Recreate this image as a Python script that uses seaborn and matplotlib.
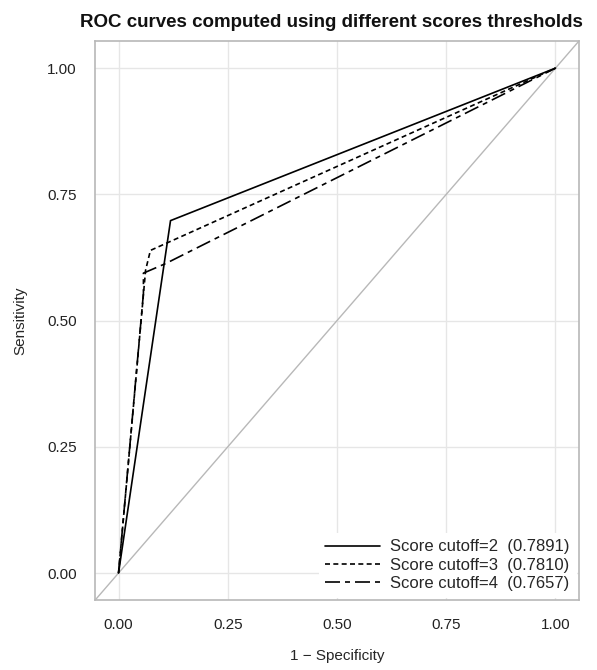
import numpy as np
import pandas as pd
import seaborn as sns
import matplotlib
matplotlib.use('Agg')
import matplotlib.pyplot as plt

# ROC points (1 - specificity, sensitivity)
fpr_c2 = [0.0, 0.119, 1.0]
tpr_c2 = [0.0, 0.698, 1.0]

fpr_c3 = [0.0, 0.062, 0.073, 1.0]
tpr_c3 = [0.0, 0.600, 0.639, 1.0]

fpr_c4 = [0.0, 0.057, 0.057, 0.108, 1.0]
tpr_c4 = [0.0, 0.554, 0.594, 0.613, 1.0]

labels = ['Score cutoff=2  (0.7891)', 'Score cutoff=3  (0.7810)', 'Score cutoff=4  (0.7657)']
ticks = [0.0, 0.25, 0.5, 0.75, 1.0]

sns.set_style('white')
plt.rcParams['font.family'] = ['Liberation Sans', 'DejaVu Sans']

fig = plt.figure(figsize=(5.97, 6.70), dpi=100)
ax = fig.add_axes([0.159, 0.104, 0.811, 0.835])

grey = '#b8b8b8'
ax.axline((0, 0), (1, 1), color=grey, lw=1, zorder=1)

curves = [(fpr_c2, tpr_c2, '-'), (fpr_c3, tpr_c3, (0, (3, 2))), (fpr_c4, tpr_c4, (0, (9, 3, 3, 3)))]
for (fx, ty, ls), lab in zip(curves, labels):
    d = pd.DataFrame({'fpr': fx, 'tpr': ty})
    sns.lineplot(data=d, x='fpr', y='tpr', ax=ax, color='black', lw=1.2,
                 linestyle=ls, estimator=None, sort=False, label=lab, zorder=3)

ax.set_xlim(-0.054, 1.054)
ax.set_ylim(-0.054, 1.054)
ax.set_xticks(ticks)
ax.set_yticks(ticks)
ax.set_xticklabels([f'{t:.2f}' for t in ticks])
ax.set_yticklabels([f'{t:.2f}' for t in ticks])
ax.grid(True, color='#e6e6e6', lw=1, zorder=0)
ax.set_axisbelow(True)
for s in ax.spines.values():
    s.set_color(grey)
    s.set_linewidth(1.2)
    s.set_zorder(10)
ax.tick_params(axis='both', length=6, width=1, color=grey, labelsize=11, labelcolor='#222222', pad=7)

ax.set_xlabel('1 \u2212 Specificity', fontsize=11, labelpad=12)
ax.set_ylabel('Sensitivity', fontsize=11, labelpad=14)
fig.text(0.556, 0.967, 'ROC curves computed using different scores thresholds', fontsize=13.5,
         fontweight='bold', ha='center', va='center', color='#111111')

leg = ax.legend(loc='lower right', frameon=True, fontsize=12, handlelength=3.3,
                borderaxespad=0.15, labelspacing=0.2, handletextpad=0.6)
leg.get_frame().set_edgecolor('none')
leg.get_frame().set_facecolor('white')
leg.get_frame().set_alpha(1)
leg.get_frame().set_boxstyle('square', pad=0.0)

fig.savefig('out.png', dpi=100)
